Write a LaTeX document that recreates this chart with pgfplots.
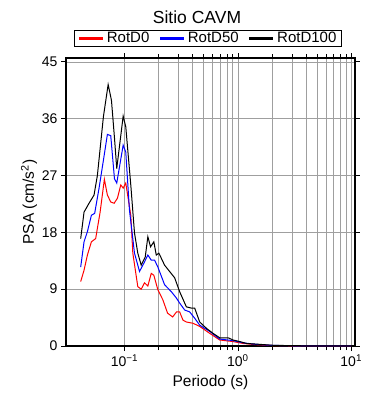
\documentclass[border=0pt]{standalone}
\usepackage{fontspec}
\setmainfont{Liberation Sans}
\usepackage{pgfplots}
\pgfplotsset{compat=1.18}
\begin{document}
\begin{tikzpicture}
\path[use as bounding box] (-66pt,-54pt) rectangle (324pt,346pt);
\begin{axis}[
  name=ax,
  at={(0pt,0pt)}, anchor=south west,
  scale only axis, width=289pt, height=288pt,
  xmode=log, xmin=0.0305, xmax=10.8, ymin=0, ymax=45.6,
  ytick={0,9,18,27,36,45},
  xtick={0.1,1,10},
  xticklabels={10\textsuperscript{−1},10\textsuperscript{0},10\textsuperscript{1}},
  /pgf/number format/assume math mode=true,
  grid=both,
  major grid style={gray!75, line width=0.5pt},
  minor grid style={gray!75, line width=0.5pt},
  tick align=outside,
  major tick length=5pt, minor tick length=4pt,
  every tick/.style={black, line width=0.6pt},
  axis line style={line width=1.3pt},
  ticklabel style={font=\fontsize{14}{16}\selectfont},
  xlabel={Periodo (s)}, ylabel={PSA (cm/s\textsuperscript{2})},
  label style={font=\fontsize{15.5}{18}\selectfont},
  xlabel style={at={(0.5,0)}, anchor=base, yshift=-40pt},
  ylabel style={at={(0,0.5)}, anchor=center, yshift=37pt},
  legend columns=3,
  legend image code/.code={\draw[#1, line width=3.5pt] (0pt,0pt) -- (24pt,0pt);},
  legend style={at={(0.491,1)}, anchor=south, yshift=11pt, draw=black, line width=1.2pt,
    font=\fontsize{15}{17}\selectfont, inner xsep=3pt, inner ysep=0pt,
    /tikz/every even column/.append style={column sep=7pt}},
]
\addplot[red, line width=1pt] coordinates {
(0.0411,10.2) (0.0440,12.0) (0.0471,14.4) (0.0511,16.5) (0.0557,17.0) (0.0610,21.2)
(0.0665,26.4) (0.0707,23.9) (0.0757,22.8) (0.0811,22.6) (0.0867,23.4) (0.0928,25.5)
(0.0974,25.0) (0.1027,25.8) (0.1137,20.7) (0.1185,14.7) (0.1311,9.4) (0.1405,9.0)
(0.1503,10.0) (0.1608,9.5) (0.1723,11.5) (0.1816,11.2) (0.1971,8.9) (0.2182,7.3)
(0.2400,5.2) (0.2660,4.6) (0.2880,5.4) (0.3068,5.4) (0.3281,4.1) (0.3516,3.8)
(0.4021,3.6) (0.4610,3.1) (0.5651,2.0) (0.6928,0.95) (0.9088,0.7) (1.114,0.4)
(1.464,0.2) (2,0.08) (3,0.03) (5,0.015) (10,0.01)
};
\addlegendentry{RotD0}
\addplot[blue, line width=1pt] coordinates {
(0.0411,12.5) (0.0440,16.5) (0.0471,18.1) (0.0511,20.7) (0.0546,21.0) (0.0597,25.0)
(0.0652,29.4) (0.0707,33.5) (0.0757,33.3) (0.0816,26.5) (0.0855,25.8) (0.0974,31.8)
(0.1027,30.7) (0.1107,21.5) (0.1226,14.7) (0.1358,11.8) (0.1482,13.1) (0.1608,14.4)
(0.1723,13.6) (0.1843,13.6) (0.1971,12.5) (0.2259,9.7) (0.2590,8.6) (0.2869,7.6)
(0.3068,6.8) (0.3396,5.7) (0.3760,5.4) (0.4163,4.4) (0.4610,3.3) (0.5651,2.3)
(0.6928,1.1) (0.9088,0.85) (1.114,0.5) (1.464,0.25) (2,0.1) (3,0.04) (5,0.02) (10,0.01)
};
\addlegendentry{RotD50}
\addplot[black, line width=1pt] coordinates {
(0.0411,17.0) (0.0440,21.2) (0.0487,22.6) (0.0539,23.9) (0.0577,27.0) (0.0652,36.3)
(0.0718,41.4) (0.0768,38.9) (0.0816,33.0) (0.0855,28.1) (0.0974,36.4) (0.1027,34.7)
(0.1137,25.5) (0.1226,17.9) (0.1311,14.7) (0.1405,12.8) (0.1525,14.1) (0.1608,17.3)
(0.1699,15.7) (0.1816,16.5) (0.1908,14.4) (0.2012,14.7) (0.2259,12.8) (0.2771,10.8)
(0.3068,8.6) (0.3516,6.2) (0.3893,6.0) (0.4163,6.0) (0.4610,3.8) (0.5284,2.8)
(0.6045,2.0) (0.6928,1.3) (0.8208,1.3) (0.9088,0.95) (1.0416,0.7) (1.194,0.4)
(1.464,0.3) (2,0.12) (3,0.05) (5,0.02) (10,0.01)
};
\addlegendentry{RotD100}
\end{axis}
\node[font=\fontsize{17.5}{20}\selectfont, anchor=base] at (131pt, 322pt) {Sitio CAVM};
\end{tikzpicture}
\end{document}
